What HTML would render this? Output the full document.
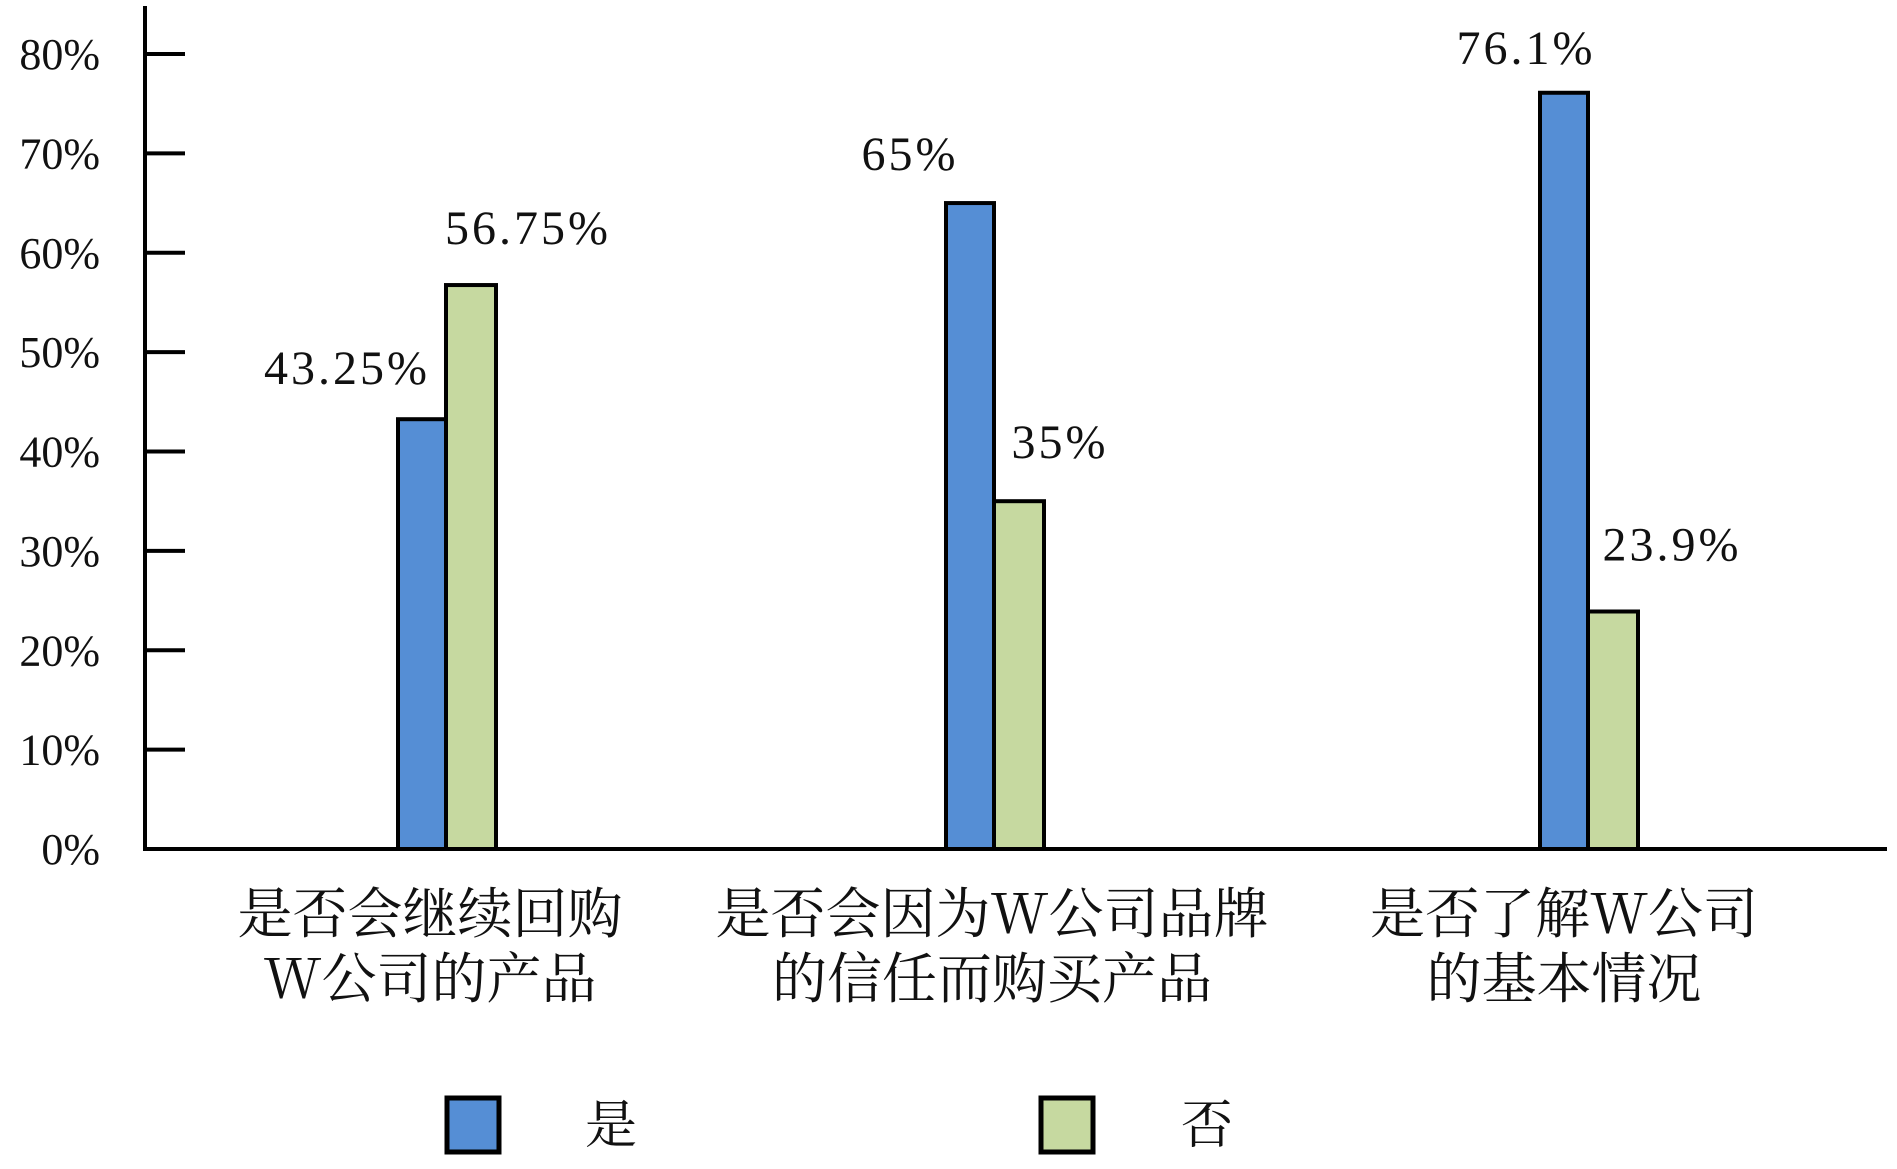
<!DOCTYPE html>
<html><head><meta charset="utf-8"><style>
html,body{margin:0;padding:0;background:#fff;}
svg{display:block;}
text{font-family:"Liberation Serif","Noto Serif CJK SC",serif;fill:#111;}
.cjk{font-family:"Noto Serif CJK SC","Liberation Serif",serif;}
</style></head><body>
<svg id="chart" width="1897" height="1169" viewBox="0 0 1897 1169" xmlns="http://www.w3.org/2000/svg"></svg>
<script>
const categories = [["是否会继续回购","W公司的产品"],["是否会因为W公司品牌","的信任而购买产品"],["是否了解W公司","的基本情况"]];
const yesValues = [43.25, 65, 76.1];
const noValues = [56.75, 35, 23.9];
const yesLabels = ["43.25%","65%","76.1%"];
const noLabels = ["56.75%","35%","23.9%"];
const tickValues = [0,10,20,30,40,50,60,70,80];
const tickLabels = ["0%","10%","20%","30%","40%","50%","60%","70%","80%"];

const NS="http://www.w3.org/2000/svg";
const svg=document.getElementById('chart');
const x0=145, x1=1887, yBase=849, yTop80=54;
function y(v){return yBase-(yBase-yTop80)*v/80;}
const centers=[446,994,1588];
const labelShift=[-16,-2,-24];
function xc(i){return centers[i];}
const barW=48;
function mk(tag,attrs,parent){const e=document.createElementNS(NS,tag);for(const k in attrs)e.setAttribute(k,attrs[k]);(parent||svg).appendChild(e);return e;}

let ya=mk('line',{x1:x0,y1:6,x2:x0,y2:yBase+2,stroke:'#000','stroke-width':4});


tickValues.forEach((v,i)=>{
  const t=mk('line',{x1:x0,y1:y(v),x2:185,y2:y(v),stroke:'#000','stroke-width':4});
  
  
  const tx=mk('text',{x:100,y:y(v)+15,'text-anchor':'end','font-size':44});
  tx.textContent=tickLabels[i];
  
  
});

const yesDx=[-75,-60,-38], yesDy=[-50,-48,-44];
const noDx=[58,42,60], noDy=[-56,-58,-66];
categories.forEach((c,i)=>{
  const cx=xc(i);
  const b1=mk('rect',{x:cx-barW,y:y(yesValues[i]),width:barW,height:yBase-y(yesValues[i]),fill:'#558ed5',stroke:'#000','stroke-width':4});
  
  
  const b2=mk('rect',{x:cx,y:y(noValues[i]),width:barW+2,height:yBase-y(noValues[i]),fill:'#c6d9a0',stroke:'#000','stroke-width':4});
  
  
  const l1=mk('text',{x:cx-barW/2+yesDx[i],y:y(yesValues[i])+yesDy[i]+15,'text-anchor':'middle','font-size':48,'letter-spacing':3});
  l1.textContent=yesLabels[i];
  
  
  const l2=mk('text',{x:cx+barW/2+noDx[i],y:y(noValues[i])+noDy[i]+15,'text-anchor':'middle','font-size':48,'letter-spacing':3});
  l2.textContent=noLabels[i];
  
  
  c.forEach((line,j)=>{
    const t=mk('text',{x:cx+labelShift[i],y:933+j*65,'text-anchor':'middle','font-size':55,'class':'cjk'});
    t.textContent=line;
    
    
  });
});
let xa=mk('line',{x1:x0-2,y1:yBase,x2:x1,y2:yBase,stroke:'#000','stroke-width':4});



const lg=[[447,'#558ed5','是',611],[1041,'#c6d9a0','否',1207]];
lg.forEach(l=>{
  const r=mk('rect',{x:l[0],y:1098,width:52,height:54,fill:l[1],stroke:'#000','stroke-width':5});
  
  
  const t=mk('text',{x:l[3],y:1143,'text-anchor':'middle','font-size':52,'class':'cjk'});
  t.textContent=l[2];
  
  
});
</script>
</body></html>
